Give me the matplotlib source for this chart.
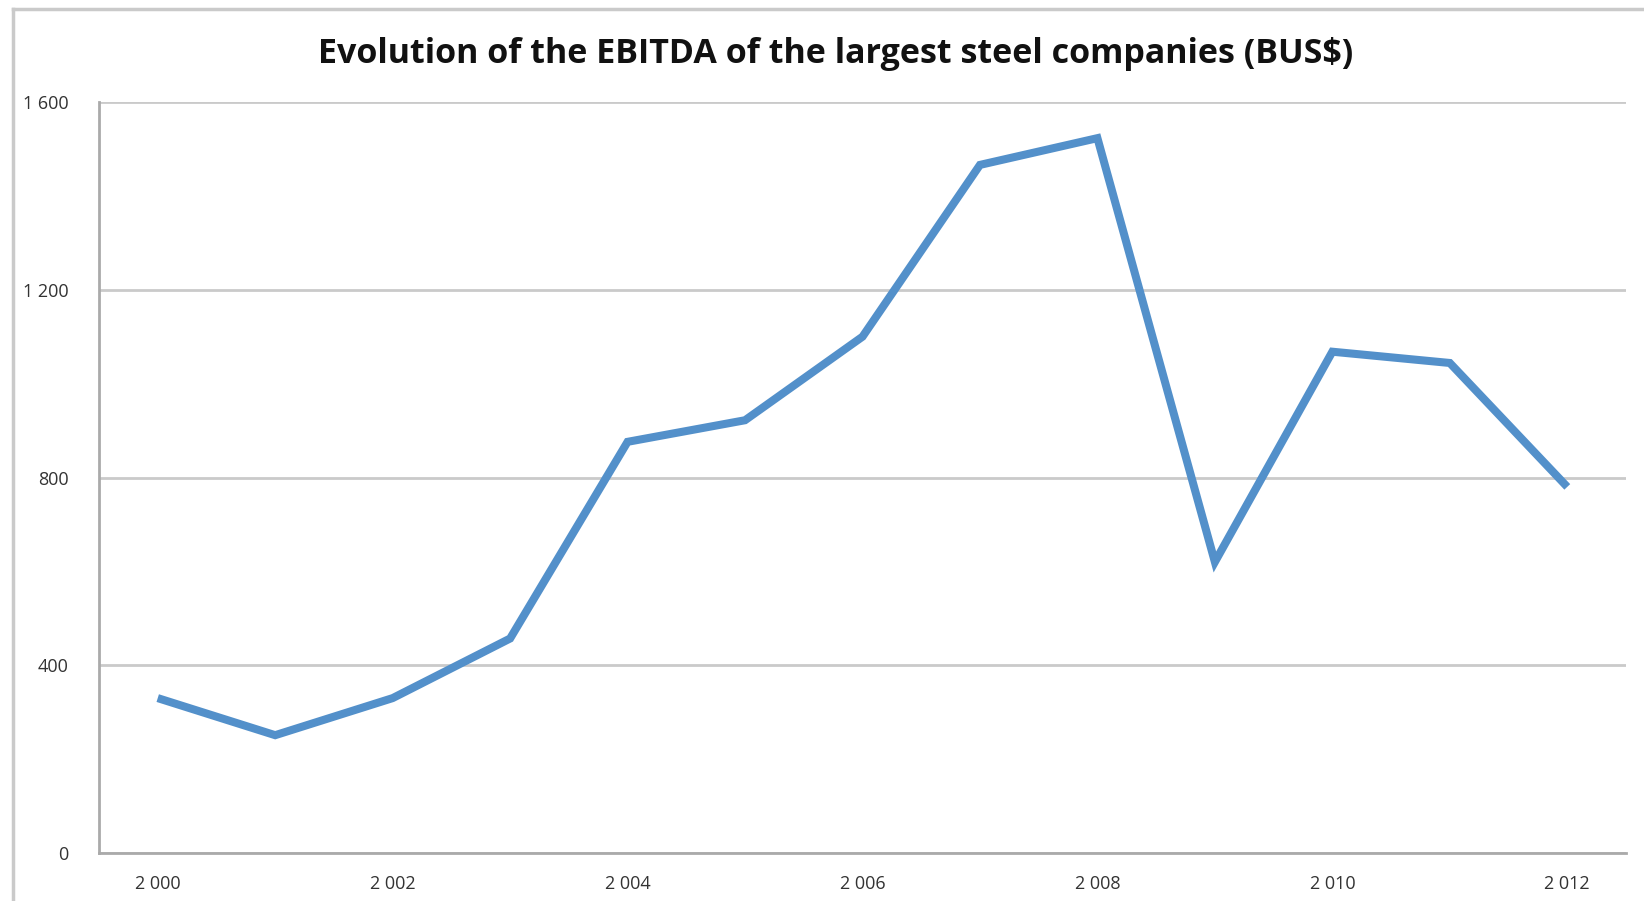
#!/usr/bin/env python3
"""EBITDA of the largest steel companies, 2000-2012 (line chart)."""
import matplotlib
matplotlib.use('Agg')
import matplotlib.pyplot as plt
from matplotlib.lines import Line2D

# Data
years = list(range(2000, 2013))
ebitda = [330, 251, 330, 457, 876, 922, 1100, 1466, 1523, 620, 1068, 1044, 780]
y_ticks = [0, 400, 800, 1200, 1600]

BLEU = '#5390CA'
GRILLE = '#CACACA'
TEXTE = '#333333'

plt.rcParams['font.family'] = ['Open Sans', 'DejaVu Sans']

fig = plt.figure(figsize=(16.44, 9.01), dpi=100)
fig.patch.set_facecolor('white')

# outer chart frame (left + top edges visible)
fig.add_artist(Line2D([13 / 1644, 13 / 1644], [0, 1 - 9 / 901],
                      transform=fig.transFigure, color=GRILLE, lw=2.5))
fig.add_artist(Line2D([13 / 1644, 1], [1 - 9 / 901, 1 - 9 / 901],
                      transform=fig.transFigure, color=GRILLE, lw=2.5))

ax = fig.add_axes([99 / 1644, 48 / 901, (1626 - 99) / 1644, (853 - 102) / 901])
x = list(range(len(years)))
ax.plot(x, ebitda, color=BLEU, lw=5.8, solid_joinstyle='miter',
        solid_capstyle='butt', zorder=3)

ax.set_xlim(-0.5, len(years) - 0.5)
ax.set_ylim(0, 1600)
ax.set_yticks(y_ticks)
ax.set_yticklabels([f'{v:,}'.replace(',', ' ') for v in y_ticks])
ax.set_xticks(x[::2])
ax.set_xticklabels([f'{y:,}'.replace(',', ' ') for y in years[::2]])

ax.yaxis.grid(True, color=GRILLE, lw=2)
ax.set_axisbelow(True)
for side in ('top', 'right'):
    ax.spines[side].set_visible(False)
for side in ('left', 'bottom'):
    ax.spines[side].set_color('#AAAAAA')
    ax.spines[side].set_linewidth(2)
ax.tick_params(length=0, labelsize=13, colors=TEXTE)
ax.tick_params(axis='y', pad=22)
ax.tick_params(axis='x', pad=16)

fig.text(836 / 1644, 1 - 54 / 901,
         'Evolution of the EBITDA of the largest steel companies (BUS$)',
         ha='center', va='center', fontsize=24.5, fontweight='bold', color='#111111')

fig.savefig('out.png', dpi=100, facecolor='white')
plt.close()
